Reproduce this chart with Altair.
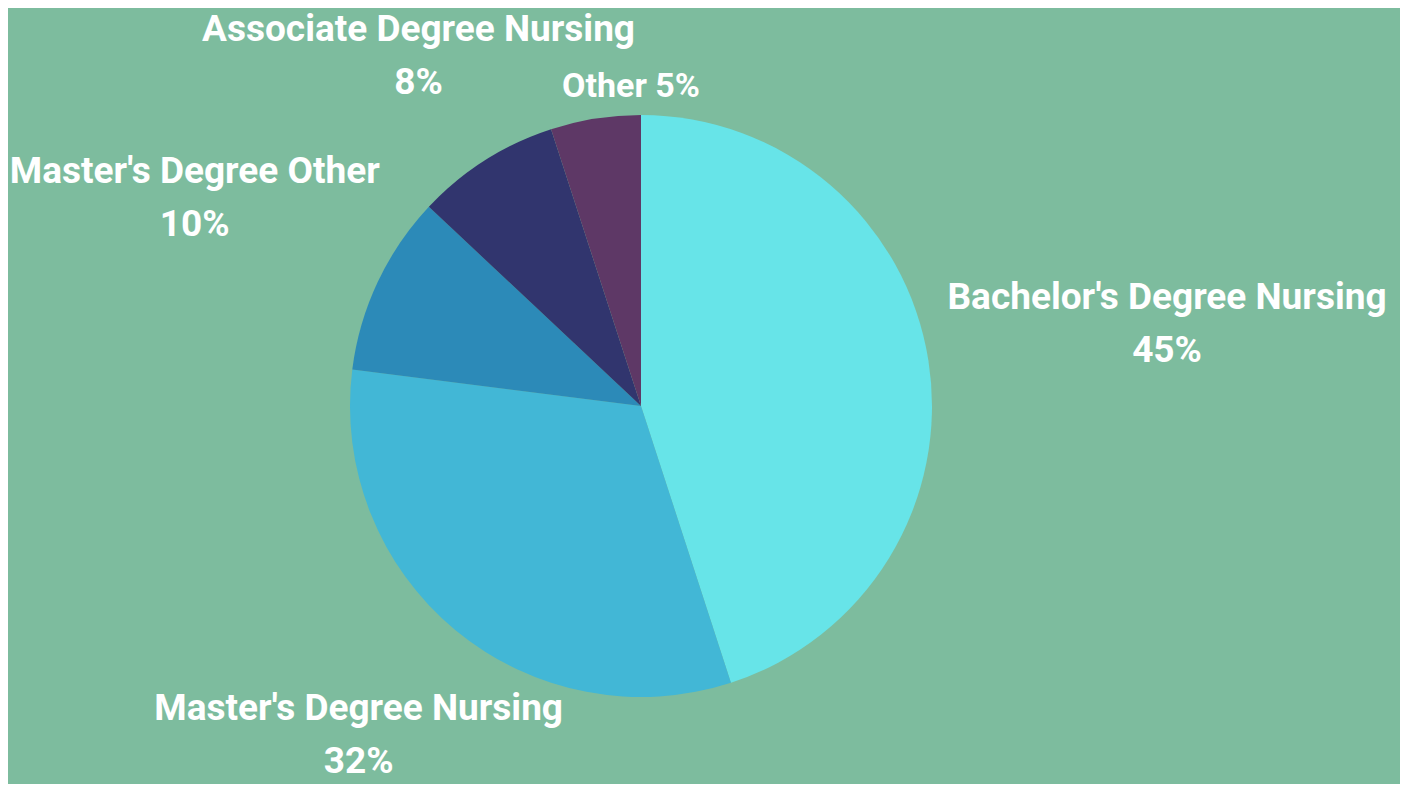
import math
import altair as alt
import pandas as pd

categories = ["Bachelor's Degree Nursing", "Master's Degree Nursing", "Master's Degree Other",
              "Associate Degree Nursing", "Other"]
values = [45, 32, 10, 8, 5]
colors = ["#67E4E8", "#42B7D6", "#2C8AB8", "#31356E", "#5E3866"]
label_text = ["Bachelor's Degree Nursing\n45%", "Master's Degree Nursing\n32%",
              "Master's Degree Other\n10%", "Associate Degree Nursing\n8%", "Other 5%"]
# layout of labels (radius in px, angle tweak in degrees, font size)
label_radius = [537, 414, 504, 437, 319]
label_angle_shift = [-2.6, 3.4, 2.5, 1.8, 7.2]
label_size = [37, 37, 37, 37, 34]

total = sum(values)
cum = 0
mids = []
for v, s in zip(values, label_angle_shift):
    mids.append(math.radians((cum + v / 2) / total * 360 + s))
    cum += v

df = pd.DataFrame({
    "category": categories,
    "value": values,
    "order": list(range(len(values))),
    "label": label_text,
    "lr": label_radius,
    "lt": mids,
    "fs": label_size,
})

CX, CY = 633, 398

pie = alt.Chart(df).mark_arc(stroke=None).encode(
    theta=alt.Theta("value:Q", stack=True),
    order=alt.Order("order:Q"),
    color=alt.Color("category:N", scale=alt.Scale(domain=categories, range=colors), legend=None),
    radius=alt.value(291),
    x=alt.value(CX),
    y=alt.value(CY),
)

labels = alt.Chart(df).mark_text(
    font="Roboto", fontWeight="bold", color="white",
    lineBreak="\n", lineHeight=53, align="center", baseline="middle",
).encode(
    theta=alt.Theta("lt:Q", scale=None),
    radius=alt.Radius("lr:Q", scale=None),
    size=alt.Size("fs:Q", scale=None, legend=None),
    text="label:N",
    x=alt.value(CX),
    y=alt.value(CY),
)

chart = alt.layer(pie, labels).properties(
    width=1392, height=776, background="#7DBC9E", padding=0,
    autosize=alt.AutoSizeParams(type="none"),
).configure_view(stroke=None)

chart.save("out.html", embed_options={"renderer": "svg", "actions": False})
